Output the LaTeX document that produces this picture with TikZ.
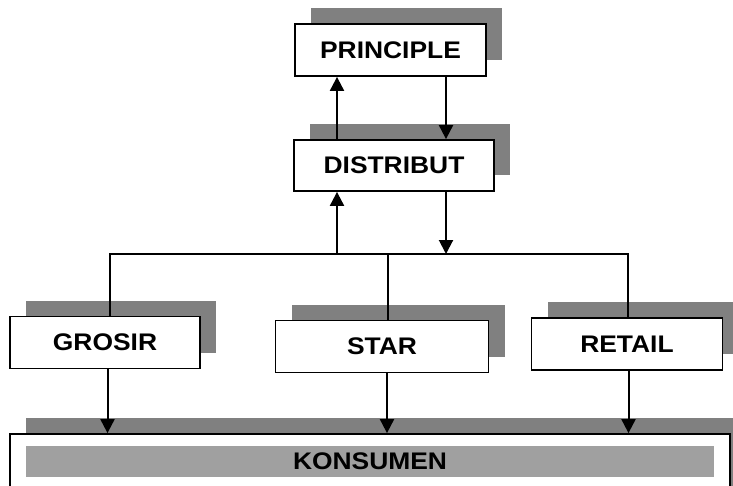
\documentclass[tikz,border=0pt]{standalone}
\usepackage{fontspec}
\setmainfont{Liberation Sans}[FakeStretch=1.1]
\usetikzlibrary{arrows.meta,shadows}
\definecolor{shadowgray}{HTML}{808080}
\definecolor{bargray}{HTML}{A0A0A0}
\begin{document}
\begin{tikzpicture}[x=1pt,y=-1pt,
  stage/.style={draw=black, fill=white, line width=1.8pt, inner sep=0pt,
    minimum height=52pt,
    font=\fontsize{24}{28}\selectfont\bfseries,
    drop shadow={shadow xshift=16pt, shadow yshift=16pt, fill=shadowgray, opacity=1}},
  wire/.style={line width=2pt, line cap=rect},
  flow/.style={line width=2pt, -{Triangle[width=14pt,length=14pt]}},
  bar/.style={fill=bargray, inner sep=0pt, font=\fontsize{24}{28}\selectfont\bfseries}]
\useasboundingbox (0,0) rectangle (733,485);
\clip (0,0) rectangle (733,485);
\fill[white] (0,0) rectangle (733,485);

% supply chain levels
\node[stage, minimum width=191pt] (principle) at (390.5,50) {PRINCIPLE};
\node[stage, minimum width=200pt, minimum height=51pt] (distribut) at (394,165.5) {DISTRIBUT};
\node[stage, minimum width=190pt] (grosir) at (105,342.5) {GROSIR};
\node[stage, minimum width=213pt] (star) at (382,346.5) {STAR};
\node[stage, minimum width=191pt] (retail) at (627,344) {RETAIL};
\node[stage, minimum width=720pt, minimum height=70pt] (konsumen) at (370,469) {};
\node[bar, minimum width=688pt, minimum height=31pt] (konsumenbar) at (370,461.5) {KONSUMEN};

% connector positions
\coordinate (upx) at (337,0);
\coordinate (downx) at (446,0);
\coordinate (busL) at (110,254);
\coordinate (busR) at (628,254);
\coordinate (starx) at (388,254);
\coordinate (gx) at (107.5,0);
\coordinate (sx) at (387,0);
\coordinate (rx) at (628.5,0);

% principle <-> distribut
\draw[flow] (upx |- distribut.north) -- (upx |- principle.south);
\draw[flow] (downx |- principle.south) -- (downx |- distribut.north);

% distribut <-> bus
\draw[flow] (upx |- busL) -- (upx |- distribut.south);
\draw[flow] (downx |- distribut.south) -- (downx |- busL);

% bus to the three channels
\draw[wire] (busL |- grosir.north) -- (busL) -- (busR) -- (busR |- retail.north);
\draw[wire] (starx) -- (starx |- star.north);

% channels to konsumen
\draw[flow] (gx |- grosir.south) -- (gx |- konsumen.north);
\draw[flow] (sx |- star.south) -- (sx |- konsumen.north);
\draw[flow] (rx |- retail.south) -- (rx |- konsumen.north);
\end{tikzpicture}
\end{document}
